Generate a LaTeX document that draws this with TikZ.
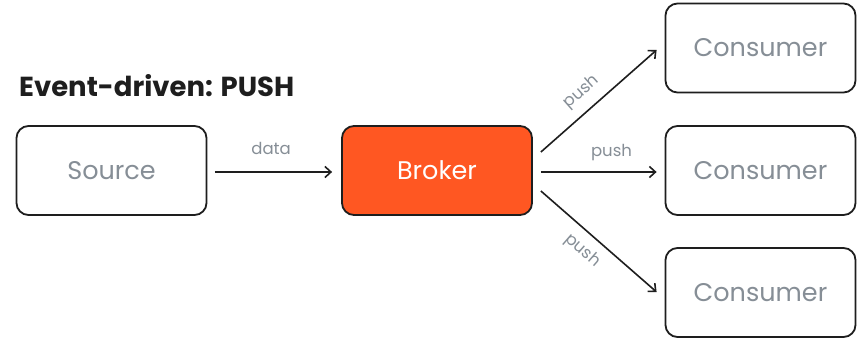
\documentclass[tikz,border=0pt]{standalone}
\usepackage{fontspec}
\setmainfont{Poppins}
\usetikzlibrary{arrows.meta,calc}
\definecolor{ink}{HTML}{1E1E1E}
\definecolor{txtgray}{HTML}{868E96}
\definecolor{brokerfill}{HTML}{FF5722}
\begin{document}
\begin{tikzpicture}[x=1pt,y=-1pt,
 box/.style={draw=ink, line width=1.8pt, rounded corners=12pt, minimum width=190pt, minimum height=89pt, inner sep=0pt, font=\fontsize{25.5}{30}\selectfont, text=txtgray},
 lbl/.style={font=\fontsize{16.5}{19}\selectfont, text=txtgray, inner sep=0pt},
 arr/.style={draw=ink, line width=1.6pt, -{Straight Barb[length=6pt,width=11pt]}}
]
\fill[white] (0,0) rectangle (859,340);
\useasboundingbox (0,0) rectangle (859,340);
\node[anchor=west, inner sep=0pt, font=\bfseries\fontsize{27.5}{32}\selectfont, text=ink] (title) at (19,86) {Event-driven: PUSH};
\node[box] (src) at (111.5,170.5) {Source};
\node[box, fill=brokerfill, text=white] (brk) at (437,170.5) {Broker};
\node[box] (c1) at (760.5,48) {Consumer};
\node[box] (c2) at (760.5,170.5) {Consumer};
\node[box] (c3) at (760.5,292.5) {Consumer};
\draw[arr] ($(src.east)+(7.5,1.5)$) -- node[lbl, pos=0.48, above=17pt] {data} ($(brk.west)+(-9,1.5)$);
\draw[arr] ($(brk.east)+(8,-18.5)$) -- node[lbl, pos=0.455, sloped, above=9pt] {push} ($(c1.west)+(-8,2)$);
\draw[arr] ($(brk.east)+(8,1.5)$) -- node[lbl, pos=0.61, above=10pt] {push} ($(c2.west)+(-8,1.5)$);
\draw[arr] ($(brk.east)+(8,20.5)$) -- node[lbl, pos=0.46, sloped, below=9pt] {push} ($(c3.west)+(-8,-0.5)$);
\end{tikzpicture}
\end{document}
